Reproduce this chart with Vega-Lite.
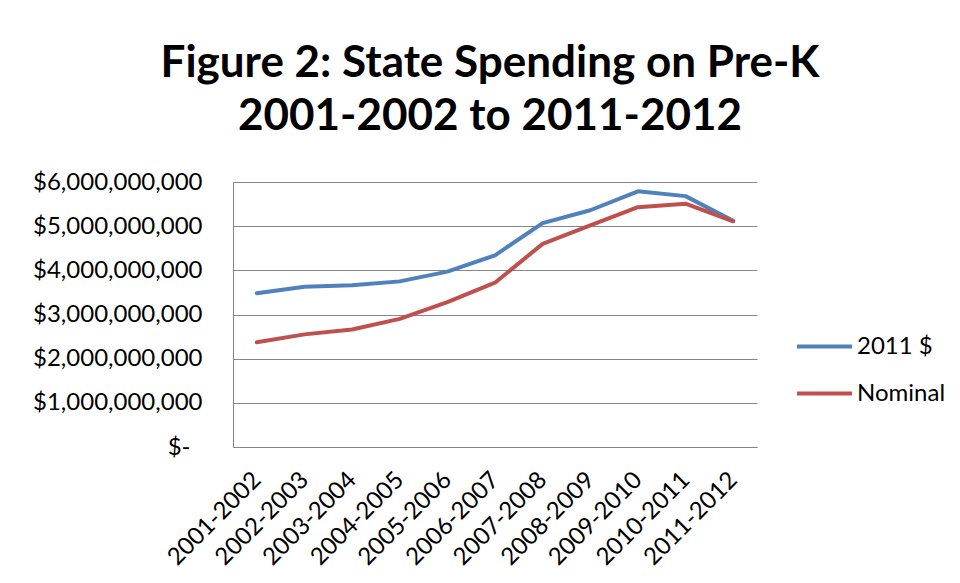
{
  "$schema": "https://vega.github.io/schema/vega-lite/v6.json",
  "autosize": {"type": "none"},
  "width": 524,
  "height": 265,
  "padding": {"left": 233, "top": 182, "right": 203, "bottom": 136},
  "background": "white",
  "title": {
    "text": ["Figure 2: State Spending on Pre-K", "2001-2002 to 2011-2012"],
    "anchor": "middle",
    "frame": "group",
    "font": "Lato",
    "fontWeight": "bold",
    "fontSize": 44,
    "lineHeight": 53,
    "color": "#000000",
    "baseline": "alphabetic",
    "offset": 49,
    "dx": -5,
    "dy": 53
  },
  "data": {
    "values": [
      {"period": "2001-2002", "series": "2011 $", "value": 3480000000},
      {"period": "2002-2003", "series": "2011 $", "value": 3630000000},
      {"period": "2003-2004", "series": "2011 $", "value": 3660000000},
      {"period": "2004-2005", "series": "2011 $", "value": 3750000000},
      {"period": "2005-2006", "series": "2011 $", "value": 3970000000},
      {"period": "2006-2007", "series": "2011 $", "value": 4340000000},
      {"period": "2007-2008", "series": "2011 $", "value": 5070000000},
      {"period": "2008-2009", "series": "2011 $", "value": 5360000000},
      {"period": "2009-2010", "series": "2011 $", "value": 5790000000},
      {"period": "2010-2011", "series": "2011 $", "value": 5680000000},
      {"period": "2011-2012", "series": "2011 $", "value": 5120000000},
      {"period": "2001-2002", "series": "Nominal", "value": 2370000000},
      {"period": "2002-2003", "series": "Nominal", "value": 2550000000},
      {"period": "2003-2004", "series": "Nominal", "value": 2660000000},
      {"period": "2004-2005", "series": "Nominal", "value": 2900000000},
      {"period": "2005-2006", "series": "Nominal", "value": 3280000000},
      {"period": "2006-2007", "series": "Nominal", "value": 3720000000},
      {"period": "2007-2008", "series": "Nominal", "value": 4600000000},
      {"period": "2008-2009", "series": "Nominal", "value": 5020000000},
      {"period": "2009-2010", "series": "Nominal", "value": 5430000000},
      {"period": "2010-2011", "series": "Nominal", "value": 5510000000},
      {"period": "2011-2012", "series": "Nominal", "value": 5110000000}
    ]
  },
  "mark": {"type": "line", "strokeWidth": 4, "strokeCap": "round", "strokeJoin": "round"},
  "encoding": {
    "x": {
      "field": "period",
      "type": "ordinal",
      "sort": null,
      "scale": {"type": "point", "padding": 0.5},
      "axis": {
        "title": null,
        "labelAngle": -45,
        "labelAlign": "right",
        "labelBaseline": "middle",
        "labelFont": "Lato",
        "labelFontSize": 24,
        "labelColor": "#000000",
        "labelPadding": 29,
        "ticks": false,
        "grid": false,
        "domainColor": "#868686",
        "domainWidth": 1
      }
    },
    "y": {
      "field": "value",
      "type": "quantitative",
      "scale": {"domain": [0, 6000000000], "nice": false},
      "axis": {
        "title": null,
        "values": [0, 1000000000, 2000000000, 3000000000, 4000000000, 5000000000, 6000000000],
        "labelExpr": "datum.value == 0 ? '$-' : format(datum.value, '$,.0f')",
        "labelFont": "Lato",
        "labelFontSize": 24,
        "labelColor": "#000000",
        "labelPadding": {"condition": {"test": "datum.value == 0", "value": 43}, "value": 31},
        "ticks": false,
        "grid": true,
        "gridColor": "#868686",
        "gridWidth": 1,
        "domainColor": "#868686",
        "domainWidth": 1
      }
    },
    "color": {
      "field": "series",
      "type": "nominal",
      "scale": {"domain": ["2011 $", "Nominal"], "range": ["#4F81BD", "#C0504D"]},
      "legend": {
        "title": null,
        "orient": "none",
        "legendX": 562,
        "legendY": 135,
        "symbolType": "stroke",
        "symbolSize": 3025,
        "symbolStrokeWidth": 4,
        "labelFont": "Lato",
        "labelFontSize": 24,
        "labelColor": "#000000",
        "labelOffset": 3,
        "rowPadding": 5
      }
    }
  },
  "config": {"view": {"stroke": null}}
}
